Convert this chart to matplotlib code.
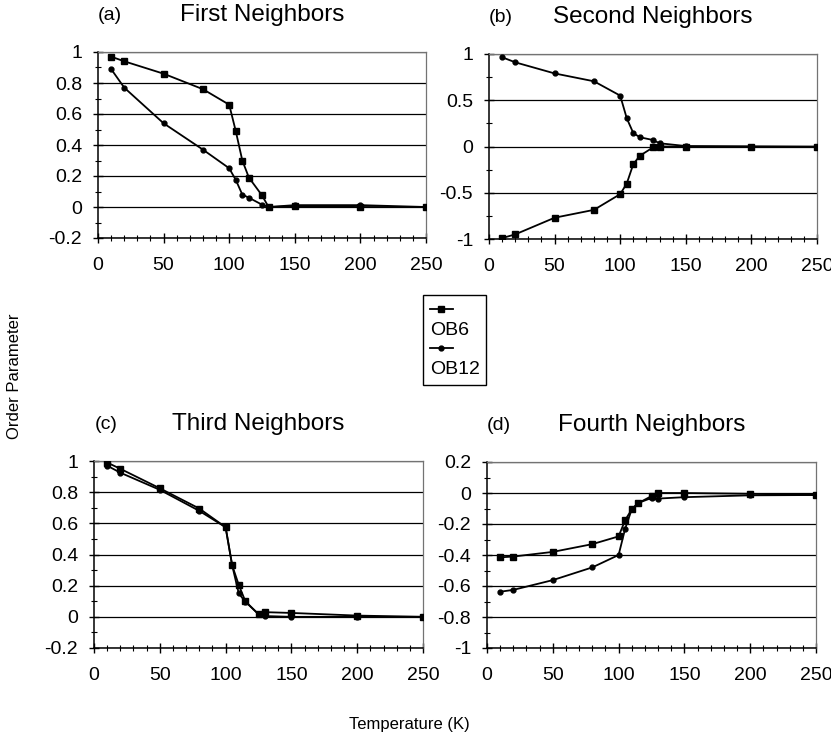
import matplotlib.pyplot as plt
from matplotlib.lines import Line2D
from matplotlib.ticker import MultipleLocator

plt.rcParams['font.family'] = ['Liberation Sans', 'DejaVu Sans']

# temperatures (K)
temps = [10, 20, 50, 80, 100, 105, 110, 115, 125, 130, 150, 200, 250]

# order parameters
first_ob6 = [0.97, 0.94, 0.86, 0.76, 0.66, 0.49, 0.30, 0.19, 0.075, 0.0, 0.005, 0.0, 0.0]
first_ob12 = [0.89, 0.77, 0.54, 0.37, 0.25, 0.175, 0.08, 0.06, 0.015, 0.0, 0.012, 0.012, 0.0]
second_ob6 = [-0.99, -0.95, -0.77, -0.685, -0.515, -0.40, -0.19, -0.10, -0.01, 0.0, 0.0, 0.0, -0.005]
second_ob12 = [0.965, 0.91, 0.79, 0.705, 0.55, 0.305, 0.145, 0.10, 0.07, 0.035, 0.005, 0.0, 0.0]
third_ob6 = [0.99, 0.95, 0.825, 0.695, 0.575, 0.33, 0.205, 0.10, 0.017, 0.03, 0.025, 0.008, 0.0]
third_ob12 = [0.97, 0.925, 0.815, 0.68, 0.575, 0.33, 0.15, 0.097, 0.017, 0.005, 0.0, 0.0, 0.0]
fourth_ob6 = [-0.415, -0.41, -0.38, -0.33, -0.28, -0.175, -0.105, -0.065, -0.02, 0.0, 0.0, -0.005, -0.013]
fourth_ob12 = [-0.637, -0.625, -0.562, -0.48, -0.40, -0.23, -0.105, -0.064, -0.032, -0.036, -0.027, -0.015, -0.013]

panel_tags = ['(a)', '(b)', '(c)', '(d)']
panel_titles = ['First Neighbors', 'Second Neighbors', 'Third Neighbors', 'Fourth Neighbors']

W, H = 831, 747
fig = plt.figure(figsize=(W / 100, H / 100), dpi=100)


def px_axes(left, top, right, bottom):
    return fig.add_axes([left / W, 1 - bottom / H, (right - left) / W, (bottom - top) / H])


panels = [
    # (axes box in px, ob6, ob12, ylim, major, minor)
    ((98, 52, 426, 238), first_ob6, first_ob12, (-0.2, 1.0), 0.2, 0.1),
    ((489, 54, 817, 239), second_ob6, second_ob12, (-1.0, 1.0), 0.5, 0.25),
    ((94, 461, 423, 648), third_ob6, third_ob12, (-0.2, 1.0), 0.2, 0.1),
    ((487, 462, 816, 648), fourth_ob6, fourth_ob12, (-1.0, 0.2), 0.2, 0.1),
]

for i, (box, ob6, ob12, ylim, major, minor) in enumerate(panels):
    ax = px_axes(*box)
    ax.plot(temps, ob6, color='black', lw=1.3, marker='s', ms=4.5, label='OB6', zorder=3)
    ax.plot(temps, ob12, color='black', lw=1.3, marker='o', ms=3.5, label='OB12', zorder=3)
    ax.set_xlim(0, 250)
    ax.set_ylim(*ylim)
    ax.xaxis.set_major_locator(MultipleLocator(50))
    ax.xaxis.set_minor_locator(MultipleLocator(10))
    ax.yaxis.set_major_locator(MultipleLocator(major))
    ax.yaxis.set_minor_locator(MultipleLocator(minor))
    ax.yaxis.set_major_formatter(lambda v, p: f'{round(v, 6) + 0:g}')
    ax.grid(axis='y', which='major', color='black', lw=0.9)
    ax.tick_params(which='major', direction='inout', length=7, width=1, labelsize=14, pad=8)
    ax.tick_params(which='minor', direction='inout', length=4, width=0.8)
    ax.tick_params(axis='x', which='major', pad=10)
    for s in ['top', 'right']:
        ax.spines[s].set_color('0.45')
        ax.spines[s].set_linewidth(0.9)
    for s in ['left', 'bottom']:
        ax.spines[s].set_linewidth(1.1)
    bh = box[3] - box[1]
    bw = box[2] - box[0]
    ax.text(0.5, 1 + 37 / bh, panel_titles[i], transform=ax.transAxes,
            ha='center', va='center', fontsize=17.5)
    ax.text(12 / bw, 1 + 37 / bh, panel_tags[i], transform=ax.transAxes,
            ha='center', va='center', fontsize=14)
    if i == 0:
        handles = ax.get_lines()

# legend: marker sample stacked above each label
blank = Line2D([], [], color='none')
leg = fig.legend([handles[0], blank, handles[1], blank], ['', 'OB6', '', 'OB12'],
                 loc='upper left', bbox_to_anchor=(423 / W, 1 - 295 / H),
                 frameon=True, fancybox=False, edgecolor='black', framealpha=1,
                 fontsize=14, handlelength=1.2, handletextpad=-1.2, labelspacing=0.1,
                 borderpad=0.35, borderaxespad=0)
leg.get_frame().set_linewidth(1.0)

fig.text(15 / W, 1 - 376 / H, 'Order Parameter', rotation=90, ha='center', va='center', fontsize=12)
fig.text(409 / W, 1 - 724 / H, 'Temperature (K)', ha='center', va='center', fontsize=12)

fig.savefig('out.png', dpi=100)
